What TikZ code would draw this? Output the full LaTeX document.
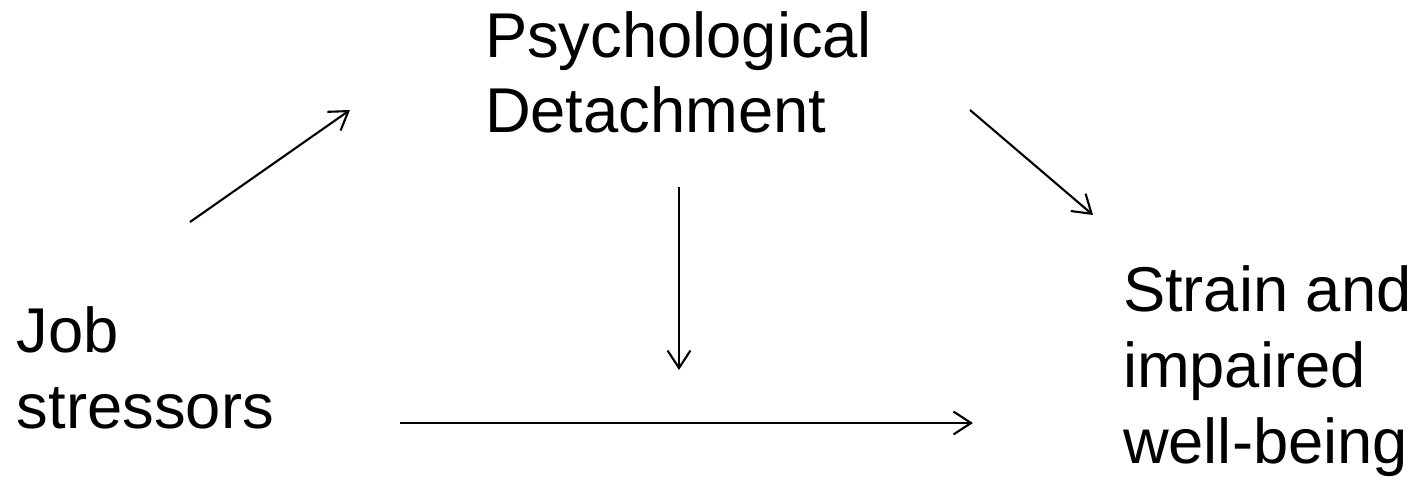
\documentclass[tikz,border=0pt]{standalone}
\usepackage{fontspec}
\setmainfont{Liberation Sans}
\usetikzlibrary{arrows.meta}
\begin{document}
\begin{tikzpicture}[x=0.01cm,y=-0.01cm,
  lbl/.style={inner sep=0pt,outer sep=0pt,align=left,anchor=base west,
    font=\fontsize{18pt}{21.5pt}\selectfont},
  arr/.style={line width=0.6pt,-{Straight Barb[length=5pt,width=6.5pt,line width=0.6pt]}}]
\useasboundingbox (0,0) rectangle (1418,482);
\node[lbl] (pd) at (485,133) {Psychological\\Detachment};
\node[lbl] (js) at (17,428) {Job\\stressors};
\node[lbl] (si) at (1123,463) {Strain and\\impaired\\well-being};
\coordinate (a1s) at (190,222);
\coordinate (a1e) at (350,110);
\coordinate (a2s) at (970,110);
\coordinate (a2e) at (1093,215);
\coordinate (a3s) at (679,187);
\coordinate (a3e) at (679,370);
\coordinate (a4s) at (400,423);
\coordinate (a4e) at (973,423);
\draw[arr] (a1s) -- (a1e);
\draw[arr] (a2s) -- (a2e);
\draw[arr] (a3s) -- (a3e);
\draw[arr] (a4s) -- (a4e);
\end{tikzpicture}
\end{document}
